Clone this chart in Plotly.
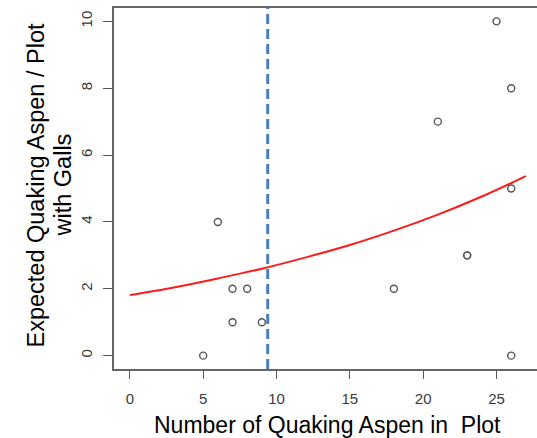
import plotly.graph_objects as go

# observed points
obs_x = [5, 6, 7, 7, 8, 9, 18, 21, 23, 23, 25, 26, 26, 26]
obs_y = [0, 4, 2, 1, 2, 1, 2, 7, 3, 3, 10, 8, 5, 0]

# fitted curve
fit_x = [0, 3, 6, 9, 12, 15, 18, 21, 24, 27]
fit_y = [1.81, 2.04, 2.31, 2.60, 2.94, 3.31, 3.74, 4.22, 4.76, 5.37]

vline_x = 9.4

x_ticks = [0, 5, 10, 15, 20, 25]
y_ticks = [0, 2, 4, 6, 8, 10]

FONT = "Liberation Sans, Arial, sans-serif"

fig = go.Figure()
fig.add_trace(go.Scatter(
    x=fit_x, y=fit_y, mode="lines", line=dict(color="#ff1a1a", width=2, shape="spline"),
    hoverinfo="skip", showlegend=False))
fig.add_trace(go.Scatter(
    x=obs_x, y=obs_y, mode="markers",
    marker=dict(symbol="circle-open", size=7, color="#555555", line=dict(width=1.4, color="#555555")),
    showlegend=False))

fig.add_shape(type="line", xref="x", yref="paper", x0=vline_x, x1=vline_x, y0=0, y1=1,
              line=dict(color="#4a7ebb", width=3, dash="10px,5px"))

fig.update_layout(
    width=537, height=438,
    margin=dict(l=114, r=0, t=8, b=69),
    plot_bgcolor="white", paper_bgcolor="white",
    font=dict(family=FONT, color="#000000"),
    xaxis=dict(range=[-1.08, 27.76], tickvals=x_ticks, ticktext=[str(v) for v in x_ticks],
               showgrid=False, zeroline=False, showline=True, linecolor="#666666", linewidth=1.5,
               mirror=True, ticks="outside", ticklen=8, tickcolor="#555555", tickwidth=1.2,
               tickfont=dict(size=15, color="#3a3a3a", family=FONT), ticklabelstandoff=7),
    yaxis=dict(range=[-0.4, 10.4], tickvals=y_ticks, ticktext=[str(v) for v in y_ticks],
               showgrid=False, zeroline=False, showline=True, linecolor="#666666", linewidth=1.5,
               ticks="outside", ticklen=9, tickcolor="#555555", tickwidth=1.2, tickangle=-90,
               tickfont=dict(size=15, color="#3a3a3a", family=FONT), ticklabelstandoff=5),
    annotations=[
        dict(text="Number of Quaking Aspen in  Plot", xref="paper", yref="paper",
             x=(327 - 114) / 423, y=0, yshift=-56, xanchor="center", yanchor="middle",
             showarrow=False, font=dict(size=23, family=FONT, color="#000000")),
        dict(text="Expected Quaking Aspen / Plot", xref="paper", yref="paper",
             x=0, xshift=-(114 - 35), y=0.5, yshift=3, xanchor="center", yanchor="middle", textangle=-90,
             showarrow=False, font=dict(size=23.5, family=FONT, color="#000000")),
        dict(text="with Galls", xref="paper", yref="paper",
             x=0, xshift=-(114 - 62), y=0.5, yshift=3, xanchor="center", yanchor="middle", textangle=-90,
             showarrow=False, font=dict(size=23.5, family=FONT, color="#000000")),
    ],
)

fig.write_html("out.html")
